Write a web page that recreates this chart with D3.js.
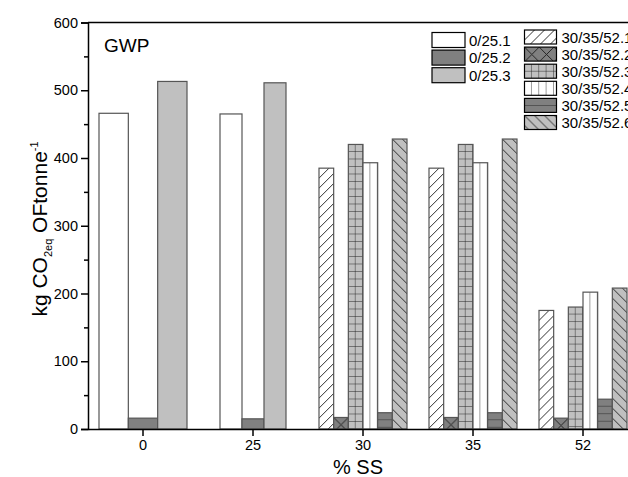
<!DOCTYPE html>
<html>
<head>
<meta charset="utf-8">
<script src="https://cdn.jsdelivr.net/npm/d3@7"></script>
<style>
  body { margin: 0; background: #fff; }
  svg { display: block; font-family: "Liberation Sans", Arial, sans-serif; }
</style>
</head>
<body>
<svg id="chart" width="628" height="477"></svg>
<script>
// categories on the x axis (% SS)
const categories = ["0", "25", "30", "35", "52"];

// first set of series, only at 0 and 25 % SS
const seriesA = ["0/25.1", "0/25.2", "0/25.3"];
const groupsA = ["0", "25"];
const valuesA = [
    [466, 16, 513],
    [465, 15, 511]
];

// second set, at 30, 35 and 52 % SS
const seriesB = ["30/35/52.1", "30/35/52.2", "30/35/52.3", "30/35/52.4", "30/35/52.5", "30/35/52.6"];
const groupsB = ["30", "35", "52"];
const valuesB = [
    [385, 17, 420, 393, 24, 428],
    [385, 17, 420, 393, 24, 428],
    [175, 16, 180, 202, 44, 208]
];

const yTicks = [0, 100, 200, 300, 400, 500, 600];
const yMinor = [50, 150, 250, 350, 450, 550];

// layout
const margin = { left: 88, top: 22.5, right: 638, bottom: 429 };
const groupFrac = { "0": 0.8, "25": 0.6, "30": 0.8, "35": 0.8, "52": 0.8 };

const svg = d3.select("#chart");

const x = d3.scaleBand().domain(categories).range([margin.left, margin.right]);
const y = d3.scaleLinear().domain([0, 600]).range([margin.bottom, margin.top]);

// ---- patterns
const defs = svg.append("defs");
const ink = "#1a1a1a";

function pat(id, w, h, fill, draw) {
    const p = defs.append("pattern")
        .attr("id", id)
        .attr("patternUnits", "userSpaceOnUse")
        .attr("width", w).attr("height", h);
    p.append("rect").attr("width", w).attr("height", h).attr("fill", fill);
    draw(p, w, h);
}
const line = (p, d) => p.append("path").attr("d", d).attr("stroke", ink).attr("stroke-width", 0.9).attr("fill", "none");

pat("p0", 10, 10, "#fff", () => {});
pat("p1", 10, 10, "#808080", () => {});
pat("p2", 10, 10, "#c0c0c0", () => {});
pat("q1", 10, 10, "#fff", (p, w, h) => line(p, `M-1,${h + 1}L${w + 1},-1 M-2,1L1,-2 M${w - 1},${h + 2}L${w + 2},${h - 1}`));
pat("q2", 14.7, 14.7, "#808080", (p, w, h) => line(p, `M0,0L${w},${h} M0,${h}L${w},0`));
pat("q3", 7.35, 7.5, "#c0c0c0", (p, w, h) => line(p, `M${w},0V${h} M0,${h}H${w}`));
pat("q4", 7.35, 10, "#fff", (p, w, h) => line(p, `M${w},0V${h}`));
pat("q5", 10, 7.5, "#808080", (p, w, h) => line(p, `M0,${h}H${w}`));
pat("q6", 10, 10, "#c0c0c0", (p, w, h) => line(p, `M-1,-1L${w + 1},${h + 1} M${w - 1},-2L${w + 2},1 M-2,${h - 1}L1,${h + 2}`));

const fillA = ["url(#p0)", "url(#p1)", "url(#p2)"];
const fillB = ["url(#q1)", "url(#q2)", "url(#q3)", "url(#q4)", "url(#q5)", "url(#q6)"];

// ---- bars
function drawGroups(groups, series, values, fills) {
    groups.forEach((g, gi) => {
        const gw = x.bandwidth() * groupFrac[g];
        const inner = d3.scaleBand().domain(series).range([0, gw]);
        const x0 = x(g) + (x.bandwidth() - gw) / 2;
        series.forEach((s, si) => {
            const v = values[gi][si];
            svg.append("g")
                .attr("transform", `translate(${x0 + inner(s)},${y(v)})`)
                .append("rect")
                .attr("width", inner.bandwidth())
                .attr("height", y(0) - y(v))
                .attr("fill", fills[si])
                .attr("stroke", "#555")
                .attr("stroke-width", 1.2);
        });
    });
}
drawGroups(groupsA, seriesA, valuesA, fillA);
drawGroups(groupsB, seriesB, valuesB, fillB);

// ---- axes
svg.append("g")
    .attr("transform", `translate(${margin.left},0)`)
    .call(d3.axisLeft(y).tickValues(yTicks).tickSize(7).tickPadding(3));
svg.append("g")
    .attr("transform", `translate(${margin.left},0)`)
    .call(d3.axisLeft(y).tickValues(yMinor).tickSize(4).tickFormat(""))
    .call(g => g.select(".domain").remove());

svg.append("g")
    .attr("transform", `translate(0,${margin.bottom})`)
    .call(d3.axisBottom(x).tickSize(7).tickSizeOuter(0).tickPadding(4));

svg.selectAll("g[font-family]").attr("font-family", null).attr("font-size", null);
svg.selectAll(".tick text").attr("font-size", 14.5).attr("fill", "#000");
svg.selectAll(".domain, .tick line").attr("stroke", "#000").attr("stroke-width", 1.5);

// frame top and right
svg.append("path")
    .attr("d", `M${margin.left},${margin.top}H${margin.right}V${margin.bottom}`)
    .attr("fill", "none").attr("stroke", "#000").attr("stroke-width", 1.5);

// ---- labels
svg.append("text").attr("x", 104).attr("y", 52).attr("font-size", 19).text("GWP");

svg.append("text")
    .attr("x", (margin.left + margin.right) / 2 - 5).attr("y", 474)
    .attr("text-anchor", "middle").attr("font-size", 20).text("% SS");

const yl = svg.append("text")
    .attr("transform", "translate(47,229) rotate(-90)")
    .attr("text-anchor", "middle").attr("font-size", 21);
yl.append("tspan").text("kg CO");
yl.append("tspan").attr("font-size", 11).attr("dy", 5).text("2eq");
yl.append("tspan").attr("dy", -5).text(" OFtonne");
yl.append("tspan").attr("font-size", 11).attr("dy", -9).text("-1");

// ---- legend
const legA = svg.append("g");
seriesA.forEach((s, i) => {
    const top = 32.5 + i * 17.6;
    legA.append("g").attr("transform", `translate(432,${top})`)
        .append("rect").attr("width", 33).attr("height", 15)
        .attr("fill", fillA[i]).attr("stroke", "#000").attr("stroke-width", 1.2);
    legA.append("text").attr("x", 469).attr("y", top + 13).attr("font-size", 15).text(s);
});
const legB = svg.append("g");
seriesB.forEach((s, i) => {
    const top = 30 + i * 17.1;
    legB.append("g").attr("transform", `translate(524.5,${top})`)
        .append("rect").attr("width", 32).attr("height", 14)
        .attr("fill", fillB[i]).attr("stroke", "#000").attr("stroke-width", 1.2);
    legB.append("text").attr("x", 561.5).attr("y", top + 12.5).attr("font-size", 15).text(s);
});
</script>
</body>
</html>
